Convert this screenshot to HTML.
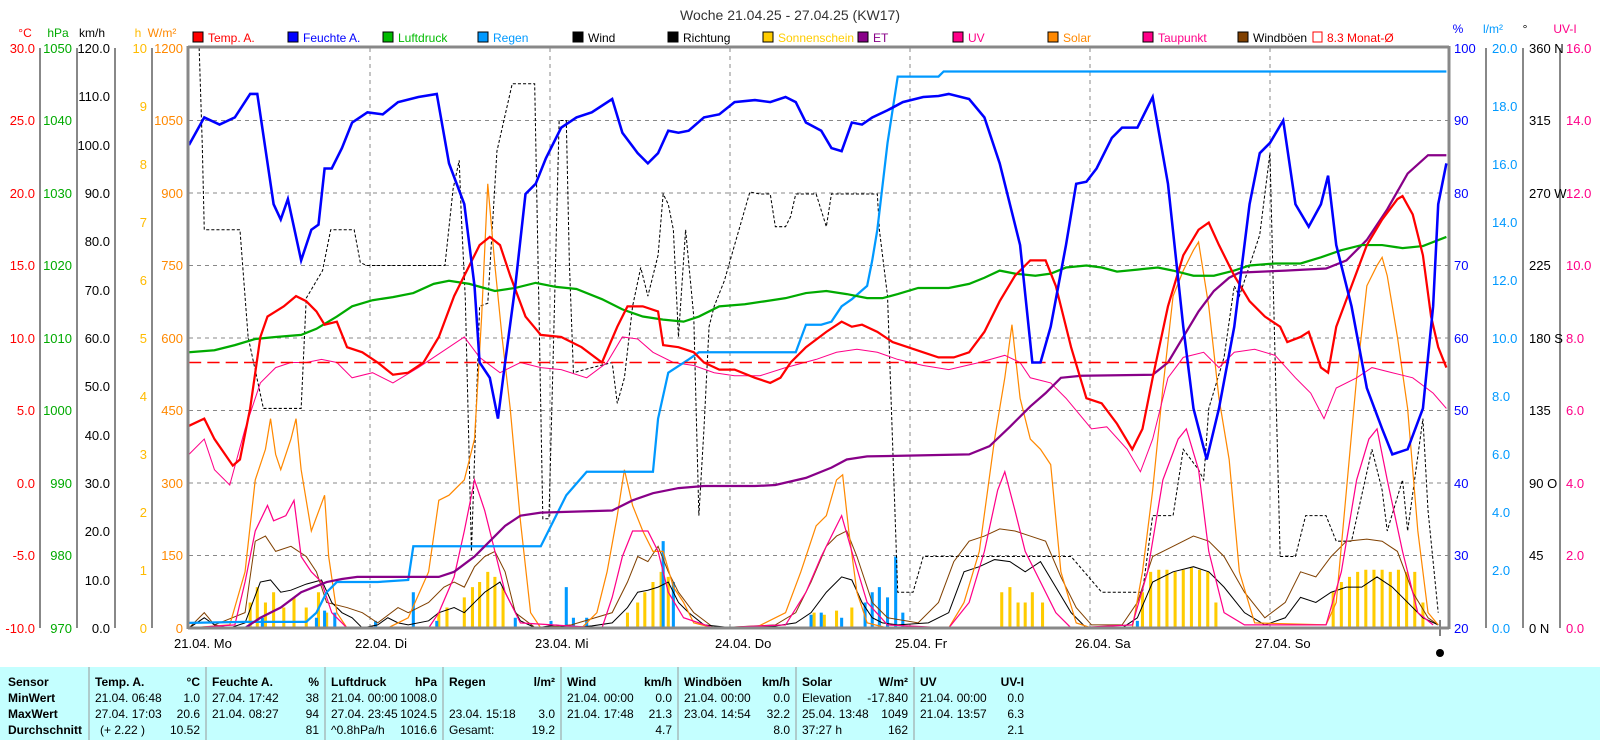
<!DOCTYPE html>
<html><head><meta charset="utf-8"><style>
body{margin:0;background:#fff;width:1600px;height:740px;overflow:hidden;font-family:"Liberation Sans",sans-serif}
svg text{font-family:"Liberation Sans",sans-serif}
</style></head><body>
<svg width="1600" height="740" xmlns="http://www.w3.org/2000/svg" font-size="12">
<text x="790" y="20" text-anchor="middle" font-size="14" fill="#333">Woche 21.04.25 - 27.04.25 (KW17)</text>
<g font-size="12">
<rect x="193" y="32" width="10" height="10" fill="#f00" stroke="#000"/><text x="208" y="42" fill="#f00">Temp. A.</text>
<rect x="288" y="32" width="10" height="10" fill="#00f" stroke="#000"/><text x="303" y="42" fill="#00f">Feuchte A.</text>
<rect x="383" y="32" width="10" height="10" fill="#0b0" stroke="#000"/><text x="398" y="42" fill="#0b0">Luftdruck</text>
<rect x="478" y="32" width="10" height="10" fill="#09f" stroke="#000"/><text x="493" y="42" fill="#09f">Regen</text>
<rect x="573" y="32" width="10" height="10" fill="#000" stroke="#000"/><text x="588" y="42" fill="#000">Wind</text>
<rect x="668" y="32" width="10" height="10" fill="#000" stroke="#000"/><text x="683" y="42" fill="#000">Richtung</text>
<rect x="763" y="32" width="10" height="10" fill="#fc0" stroke="#000"/><text x="778" y="42" fill="#fc0">Sonnenschein</text>
<rect x="858" y="32" width="10" height="10" fill="#808" stroke="#000"/><text x="873" y="42" fill="#808">ET</text>
<rect x="953" y="32" width="10" height="10" fill="#f08" stroke="#000"/><text x="968" y="42" fill="#f08">UV</text>
<rect x="1048" y="32" width="10" height="10" fill="#f80" stroke="#000"/><text x="1063" y="42" fill="#f80">Solar</text>
<rect x="1143" y="32" width="10" height="10" fill="#f08" stroke="#000"/><text x="1158" y="42" fill="#f08">Taupunkt</text>
<rect x="1238" y="32" width="10" height="10" fill="#804000" stroke="#000"/><text x="1253" y="42" fill="#000">Windböen</text>
<rect x="1313" y="32" width="9" height="10" fill="none" stroke="#f00"/><text x="1327" y="42" fill="#f00">8.3 Monat-Ø</text>
</g>
<g font-size="12">
<text x="25" y="37" text-anchor="middle" fill="#f00">°C</text>
<text x="58" y="37" text-anchor="middle" fill="#0a0">hPa</text>
<text x="92" y="37" text-anchor="middle" fill="#000">km/h</text>
<text x="138" y="37" text-anchor="middle" fill="#fb0">h</text>
<text x="162" y="37" text-anchor="middle" fill="#f80">W/m²</text>
<text x="1458" y="33" text-anchor="middle" fill="#00f">%</text>
<text x="1493" y="33" text-anchor="middle" fill="#09f">l/m²</text>
<text x="1525" y="33" text-anchor="middle" fill="#000">°</text>
<text x="1565" y="33" text-anchor="middle" fill="#f08">UV-I</text>
</g>
<g stroke="#888" stroke-width="2">
<line x1="40" y1="48" x2="40" y2="628"/><line x1="77" y1="48" x2="77" y2="628"/>
<line x1="115" y1="48" x2="115" y2="628"/><line x1="152" y1="48" x2="152" y2="628"/>
<line x1="1486" y1="48" x2="1486" y2="628"/><line x1="1523" y1="48" x2="1523" y2="628"/><line x1="1560" y1="48" x2="1560" y2="628"/>
</g>
<g stroke="#888" stroke-dasharray="4,4" stroke-width="1">
<line x1="189" y1="120.5" x2="1449" y2="120.5"/><line x1="189" y1="193" x2="1449" y2="193"/>
<line x1="189" y1="265.5" x2="1449" y2="265.5"/><line x1="189" y1="338" x2="1449" y2="338"/>
<line x1="189" y1="410.5" x2="1449" y2="410.5"/><line x1="189" y1="483" x2="1449" y2="483"/>
<line x1="189" y1="555.5" x2="1449" y2="555.5"/>
<line x1="370" y1="48" x2="370" y2="628"/><line x1="550" y1="48" x2="550" y2="628"/>
<line x1="730" y1="48" x2="730" y2="628"/><line x1="910" y1="48" x2="910" y2="628"/>
<line x1="1090" y1="48" x2="1090" y2="628"/><line x1="1270" y1="48" x2="1270" y2="628"/>
</g>
<g font-size="13" text-anchor="end">
<g fill="#f00">
<text x="35" y="53">30.0</text><text x="35" y="125">25.0</text><text x="35" y="198">20.0</text><text x="35" y="270">15.0</text><text x="35" y="343">10.0</text><text x="35" y="415">5.0</text><text x="35" y="488">0.0</text><text x="35" y="560">-5.0</text><text x="35" y="633">-10.0</text></g>
<g fill="#0a0">
<text x="72" y="53">1050</text><text x="72" y="125">1040</text><text x="72" y="198">1030</text><text x="72" y="270">1020</text><text x="72" y="343">1010</text><text x="72" y="415">1000</text><text x="72" y="488">990</text><text x="72" y="560">980</text><text x="72" y="633">970</text></g>
<g fill="#000">
<text x="110" y="53">120.0</text><text x="110" y="101">110.0</text><text x="110" y="150">100.0</text><text x="110" y="198">90.0</text><text x="110" y="246">80.0</text><text x="110" y="295">70.0</text><text x="110" y="343">60.0</text><text x="110" y="391">50.0</text><text x="110" y="440">40.0</text><text x="110" y="488">30.0</text><text x="110" y="536">20.0</text><text x="110" y="585">10.0</text><text x="110" y="633">0.0</text></g>
<g fill="#fb0">
<text x="147" y="53">10</text><text x="147" y="111">9</text><text x="147" y="169">8</text><text x="147" y="227">7</text><text x="147" y="285">6</text><text x="147" y="343">5</text><text x="147" y="401">4</text><text x="147" y="459">3</text><text x="147" y="517">2</text><text x="147" y="575">1</text><text x="147" y="633">0</text></g>
<g fill="#f80">
<text x="183" y="53">1200</text><text x="183" y="125">1050</text><text x="183" y="198">900</text><text x="183" y="270">750</text><text x="183" y="343">600</text><text x="183" y="415">450</text><text x="183" y="488">300</text><text x="183" y="560">150</text><text x="183" y="633">0</text></g>
</g>
<g font-size="13">
<g fill="#00f">
<text x="1454" y="53">100</text><text x="1454" y="125">90</text><text x="1454" y="198">80</text><text x="1454" y="270">70</text><text x="1454" y="343">60</text><text x="1454" y="415">50</text><text x="1454" y="488">40</text><text x="1454" y="560">30</text><text x="1454" y="633">20</text></g>
<g fill="#09f">
<text x="1492" y="53">20.0</text><text x="1492" y="111">18.0</text><text x="1492" y="169">16.0</text><text x="1492" y="227">14.0</text><text x="1492" y="285">12.0</text><text x="1492" y="343">10.0</text><text x="1492" y="401">8.0</text><text x="1492" y="459">6.0</text><text x="1492" y="517">4.0</text><text x="1492" y="575">2.0</text><text x="1492" y="633">0.0</text></g>
<g fill="#000">
<text x="1529" y="53">360 N</text><text x="1529" y="125">315</text><text x="1529" y="198">270 W</text><text x="1529" y="270">225</text><text x="1529" y="343">180 S</text><text x="1529" y="415">135</text><text x="1529" y="488">90  O</text><text x="1529" y="560">45</text><text x="1529" y="633">0    N</text></g>
<g fill="#f08">
<text x="1566" y="53">16.0</text><text x="1566" y="125">14.0</text><text x="1566" y="198">12.0</text><text x="1566" y="270">10.0</text><text x="1566" y="343">8.0</text><text x="1566" y="415">6.0</text><text x="1566" y="488">4.0</text><text x="1566" y="560">2.0</text><text x="1566" y="633">0.0</text></g>
</g>
<g font-size="13" fill="#000">
<text x="174" y="648">21.04.  Mo</text><text x="355" y="648">22.04.  Di</text><text x="535" y="648">23.04.  Mi</text><text x="715" y="648">24.04.  Do</text><text x="895" y="648">25.04.  Fr</text><text x="1075" y="648">26.04.  Sa</text><text x="1255" y="648">27.04.  So</text>
</g>
<line x1="1440" y1="620" x2="1440" y2="636" stroke="#000"/>
<circle cx="1440" cy="653" r="4" fill="#000"/>

<g transform="matrix(1.0198 0 0 1.0211 0.3 0)" fill="none">
<g stroke="#fc0" stroke-width="3">
<path d="M245 615V590M252 615V575M260 615V590M268 615V580M278 615V595M288 615V585M300 615V595M312 615V580M320 615V600M430 615V600M438 615V595M455 615V585M463 615V575M470 615V570M478 615V560M485 615V565M493 615V575M615 615V600M625 615V590M632 615V580M640 615V570M648 615V560M655 615V565M798 615V600M808 615V602M820 615V598M835 615V595M982 615V580M990 615V575M998 615V590M1005 615V590M1012 615V580M1022 615V590M1120 615V580M1128 615V560M1136 615V558M1144 615V558M1152 615V560M1160 615V558M1168 615V556M1176 615V558M1184 615V560M1192 615V590M1307 615V580M1315 615V570M1323 615V565M1331 615V560M1339 615V558M1347 615V558M1355 615V558M1363 615V560M1371 615V558M1379 615V560M1387 615V560M1395 615V590"/>
</g>
<g stroke="#09f" stroke-width="3">
<path d="M257 615V605M310 615V605M318 615V598M328 615V600M368 615V608M405 615V580M428 615V608M505 615V605M540 615V608M555 615V575M562 615V605M575 615V605M650 615V530M660 615V570M795 615V602M805 615V600M825 615V605M848 615V590M855 615V580M862 615V575M870 615V585M878 615V545M885 615V600M1115 615V608"/>
</g>
<polyline stroke="#000" stroke-width="1" stroke-dasharray="3,2" points="195,47 198,140 200,225 208,225 235,225 243,330 258,400 273,400 295,400 300,292 316,265 324,225 347,225 353,257 359,260 436,260 444,185 450,157 452,210 456,293 462,540 470,300 478,297 487,148 502,82 508,82 524,82 528,293 532,508 538,508 542,355 548,118 555,118 558,257 562,365 580,360 600,355 605,395 612,370 620,300 628,262 635,290 645,250 650,190 655,200 660,225 665,330 672,225 680,310 685,505 690,420 695,320 700,300 710,275 720,240 735,188 745,190 755,190 760,222 770,222 775,212 780,190 800,190 810,222 815,190 860,190 862,225 870,290 880,580 895,580 905,545 930,545 1010,545 1050,545 1080,580 1120,580 1130,505 1150,505 1160,440 1175,460 1180,470 1185,400 1200,350 1210,280 1215,290 1225,260 1235,230 1245,150 1250,350 1255,545 1270,545 1280,505 1300,505 1310,530 1325,530 1345,440 1355,480 1360,520 1375,470 1380,520 1395,410 1400,500 1410,600"/>
<polyline stroke="#804000" stroke-width="1" points="185,615 200,600 210,612 240,600 250,530 260,525 270,540 285,535 300,545 310,560 320,590 340,595 355,600 370,610 390,595 400,600 420,590 435,575 445,570 455,575 465,555 475,545 485,540 495,560 505,600 525,615 560,612 600,600 615,570 625,545 635,550 645,535 655,560 665,580 680,600 700,615 760,612 780,600 795,570 810,535 820,525 830,520 840,545 855,590 870,605 900,610 920,590 935,550 950,530 965,525 980,518 995,520 1010,525 1025,530 1040,565 1055,595 1070,612 1100,612 1115,590 1130,545 1150,535 1170,525 1185,530 1200,545 1220,580 1240,605 1260,590 1275,560 1290,565 1305,545 1320,530 1340,528 1355,530 1370,540 1385,580 1400,605 1410,612"/>
<polyline stroke="#000" stroke-width="1" points="185,615 200,605 210,612 225,615 240,610 255,570 265,568 275,580 285,578 300,572 315,568 325,590 335,600 345,605 355,615 370,612 380,605 390,610 400,612 420,608 430,600 445,595 455,600 465,590 475,580 490,570 500,590 510,608 525,615 545,612 560,615 580,613 600,610 615,595 625,580 635,578 645,575 655,570 665,590 675,600 690,612 720,615 760,613 780,610 795,600 810,580 825,565 835,568 845,590 855,605 865,610 880,612 910,610 930,600 945,560 960,555 975,548 990,550 1005,560 1020,550 1035,575 1050,600 1065,615 1100,615 1115,605 1130,570 1150,560 1170,555 1185,560 1200,575 1220,600 1240,612 1260,605 1275,585 1290,590 1305,580 1320,575 1335,575 1350,565 1365,575 1380,590 1395,605 1410,612"/>
<polyline stroke="#f80" stroke-width="1.2" points="185,615 225,612 240,560 250,470 260,440 265,410 270,445 275,460 285,430 290,410 295,460 305,520 318,485 322,545 330,600 340,615 380,615 400,605 420,560 430,490 440,485 455,470 465,430 472,310 478,180 485,260 492,330 500,400 510,510 520,600 530,615 570,615 585,600 595,560 605,505 612,460 620,495 630,520 640,540 650,540 660,575 670,590 680,610 700,615 740,615 770,600 785,560 800,515 810,505 820,470 826,465 832,520 840,580 850,610 870,615 930,615 945,590 960,540 975,430 985,370 992,318 1000,390 1010,430 1020,440 1030,455 1040,560 1055,610 1070,615 1110,615 1120,560 1130,480 1140,380 1150,290 1160,265 1170,245 1175,237 1185,300 1195,390 1205,450 1215,560 1230,610 1300,612 1310,590 1320,480 1330,370 1340,280 1350,260 1355,252 1360,270 1370,330 1380,400 1390,520 1400,600 1410,612"/>
<polyline stroke="#f08" stroke-width="1.2" points="185,615 230,612 240,570 250,520 262,495 268,510 280,505 288,490 295,545 305,560 315,570 325,600 340,615 420,615 430,600 445,565 455,520 465,470 475,500 485,540 495,580 510,610 590,615 600,585 610,545 620,520 635,520 645,540 655,580 670,605 700,615 770,612 790,580 805,545 815,525 825,505 835,540 850,590 870,612 930,615 950,590 965,540 978,480 985,462 995,500 1005,540 1020,570 1035,600 1050,615 1110,612 1125,560 1140,470 1155,430 1163,420 1175,460 1185,540 1200,600 1220,612 1300,612 1315,560 1330,470 1342,430 1350,420 1360,470 1375,540 1390,600 1405,612"/>
<polyline stroke="#f08" stroke-width="1" points="185,445 200,430 210,460 225,475 240,420 255,375 270,360 285,355 300,355 315,352 330,355 345,370 365,365 385,375 410,360 440,340 455,330 470,350 490,365 510,355 530,360 550,362 575,370 595,355 610,330 625,332 640,345 660,355 680,358 700,365 720,368 745,368 770,360 800,352 820,345 840,342 860,345 880,352 905,358 930,362 960,355 985,348 1000,355 1010,370 1030,375 1045,390 1070,420 1085,418 1105,440 1118,462 1130,430 1145,370 1160,350 1180,345 1195,360 1210,345 1230,342 1250,348 1270,370 1285,385 1298,410 1310,380 1330,370 1345,360 1365,365 1385,370 1405,385 1418,400"/>
<polyline stroke="#09f" stroke-width="2.2" points="185,610 240,609 300,609 310,600 320,580 330,570 370,570 400,568 405,535 460,535 530,535 545,505 555,485 575,462 640,462 645,410 655,365 675,352 685,345 780,345 790,318 805,318 815,315 825,300 835,293 850,280 855,255 860,225 870,140 880,75 920,75 925,70 1418,70"/>
<polyline stroke="#808" stroke-width="2.2" points="185,615 240,615 255,605 275,595 295,580 320,570 335,567 350,565 430,565 445,560 465,545 480,530 495,515 510,505 530,502 600,500 620,490 640,483 665,478 690,476 740,476 760,475 790,468 815,458 830,450 850,447 950,445 970,437 990,418 1010,398 1025,385 1040,370 1060,368 1130,367 1145,355 1160,330 1175,305 1190,285 1205,272 1215,267 1260,265 1300,263 1320,255 1340,235 1360,205 1380,170 1400,152 1418,152"/>
<polyline stroke="#0a0" stroke-width="2.2" points="185,345 210,343 230,338 250,332 270,330 295,328 310,322 330,310 345,300 365,294 385,291 405,287 425,278 440,275 460,278 485,285 505,282 525,277 545,281 565,283 590,293 610,303 630,310 650,313 670,315 685,310 705,300 730,298 750,295 770,292 790,287 810,285 830,288 850,292 865,292 880,288 900,282 930,282 950,278 965,272 980,265 995,268 1015,270 1030,268 1045,262 1065,260 1080,262 1095,266 1115,264 1135,262 1150,265 1170,270 1190,270 1210,265 1225,260 1250,258 1275,258 1295,252 1315,245 1335,240 1355,240 1375,243 1395,241 1418,232"/>
<line x1="185" y1="355" x2="1418" y2="355" stroke="#f00" stroke-width="1.5" stroke-dasharray="12,6"/>
<polyline stroke="#f00" stroke-width="2.2" points="185,417 200,410 210,430 228,456 235,450 245,400 255,330 262,310 270,305 278,300 290,290 300,295 310,305 318,318 330,315 340,340 355,345 370,355 385,367 400,365 415,355 430,330 445,290 460,260 470,240 480,232 490,240 500,270 515,310 530,328 550,330 570,340 590,355 605,320 615,300 630,300 645,305 650,338 665,340 680,345 690,355 705,362 720,362 740,370 755,375 765,370 775,355 790,340 810,325 825,315 835,320 845,318 860,325 875,335 890,340 905,345 920,350 935,350 950,345 965,325 980,295 995,270 1010,255 1025,255 1035,280 1050,340 1065,390 1080,395 1095,415 1110,440 1120,420 1130,370 1145,300 1160,250 1175,225 1185,218 1195,240 1210,270 1225,295 1240,310 1255,320 1262,335 1275,330 1283,325 1295,360 1302,365 1310,320 1325,280 1340,240 1355,215 1370,195 1375,192 1385,210 1395,250 1403,310 1410,340 1418,360"/>
<polyline stroke="#00f" stroke-width="2.5" points="185,142 200,115 215,122 230,115 245,92 252,92 268,200 275,215 282,195 295,255 305,225 312,220 318,165 325,165 335,145 345,120 360,110 375,112 390,100 410,95 428,92 440,160 455,200 465,280 470,355 480,370 488,410 495,355 505,280 515,190 525,180 535,155 550,125 565,115 580,110 600,97 610,130 625,150 635,160 645,150 655,128 665,130 675,128 690,115 705,112 720,100 740,98 755,100 770,95 780,100 790,120 805,128 815,145 825,148 835,120 845,122 855,115 870,108 885,100 905,95 920,94 930,92 950,97 965,115 980,160 1000,240 1012,355 1020,355 1030,320 1045,240 1055,180 1065,178 1075,165 1090,135 1100,125 1115,125 1130,95 1145,180 1160,320 1170,400 1183,450 1195,400 1210,320 1225,200 1235,150 1245,140 1258,118 1270,200 1283,222 1295,200 1302,172 1310,240 1325,300 1340,380 1355,420 1365,445 1380,440 1395,400 1405,300 1410,200 1418,160"/>
</g>
<g stroke="#888" stroke-width="3" fill="none">
<line x1="188" y1="47" x2="1449" y2="47"/><line x1="188" y1="46" x2="188" y2="629"/><line x1="1449" y1="46" x2="1449" y2="629"/><line x1="188" y1="628" x2="1449" y2="628"/>
</g>

<rect x="0" y="667" width="1600" height="73" fill="#c4ffff"/>
<g stroke="#999" stroke-width="1">
<line x1="89" y1="667" x2="89" y2="740"/><line x1="206" y1="667" x2="206" y2="740"/><line x1="325" y1="667" x2="325" y2="740"/><line x1="443" y1="667" x2="443" y2="740"/><line x1="561" y1="667" x2="561" y2="740"/><line x1="678" y1="667" x2="678" y2="740"/><line x1="796" y1="667" x2="796" y2="740"/><line x1="914" y1="667" x2="914" y2="740"/>
</g>
<g font-size="12" fill="#000">
<g font-weight="bold"><text x="8" y="686">Sensor</text><text x="8" y="702">MinWert</text><text x="8" y="718">MaxWert</text><text x="8" y="734">Durchschnitt</text>
<text x="95" y="686">Temp. A.</text><text x="319" y="686" text-anchor="end">%</text><text x="212" y="686">Feuchte A.</text><text x="200" y="686" text-anchor="end">°C</text>
<text x="331" y="686">Luftdruck</text><text x="437" y="686" text-anchor="end">hPa</text>
<text x="449" y="686">Regen</text><text x="555" y="686" text-anchor="end">l/m²</text>
<text x="567" y="686">Wind</text><text x="672" y="686" text-anchor="end">km/h</text>
<text x="684" y="686">Windböen</text><text x="790" y="686" text-anchor="end">km/h</text>
<text x="802" y="686">Solar</text><text x="908" y="686" text-anchor="end">W/m²</text>
<text x="920" y="686">UV</text><text x="1024" y="686" text-anchor="end">UV-I</text></g>
<text x="95" y="702">21.04.  06:48</text><text x="200" y="702" text-anchor="end">1.0</text>
<text x="95" y="718">27.04.  17:03</text><text x="200" y="718" text-anchor="end">20.6</text>
<text x="100" y="734">(+ 2.22 )</text><text x="200" y="734" text-anchor="end">10.52</text>
<text x="212" y="702">27.04.  17:42</text><text x="319" y="702" text-anchor="end">38</text>
<text x="212" y="718">21.04.  08:27</text><text x="319" y="718" text-anchor="end">94</text>
<text x="319" y="734" text-anchor="end">81</text>
<text x="331" y="702">21.04.  00:00</text><text x="437" y="702" text-anchor="end">1008.0</text>
<text x="331" y="718">27.04.  23:45</text><text x="437" y="718" text-anchor="end">1024.5</text>
<text x="331" y="734">^0.8hPa/h</text><text x="437" y="734" text-anchor="end">1016.6</text>
<text x="449" y="718">23.04.  15:18</text><text x="555" y="718" text-anchor="end">3.0</text>
<text x="449" y="734">Gesamt:</text><text x="555" y="734" text-anchor="end">19.2</text>
<text x="567" y="702">21.04.  00:00</text><text x="672" y="702" text-anchor="end">0.0</text>
<text x="567" y="718">21.04.  17:48</text><text x="672" y="718" text-anchor="end">21.3</text>
<text x="672" y="734" text-anchor="end">4.7</text>
<text x="684" y="702">21.04.  00:00</text><text x="790" y="702" text-anchor="end">0.0</text>
<text x="684" y="718">23.04.  14:54</text><text x="790" y="718" text-anchor="end">32.2</text>
<text x="790" y="734" text-anchor="end">8.0</text>
<text x="802" y="702">Elevation</text><text x="908" y="702" text-anchor="end">-17.840</text>
<text x="802" y="718">25.04.  13:48</text><text x="908" y="718" text-anchor="end">1049</text>
<text x="802" y="734">37:27 h</text><text x="908" y="734" text-anchor="end">162</text>
<text x="920" y="702">21.04.  00:00</text><text x="1024" y="702" text-anchor="end">0.0</text>
<text x="920" y="718">21.04.  13:57</text><text x="1024" y="718" text-anchor="end">6.3</text>
<text x="1024" y="734" text-anchor="end">2.1</text>
</g>
</svg>
</body></html>
